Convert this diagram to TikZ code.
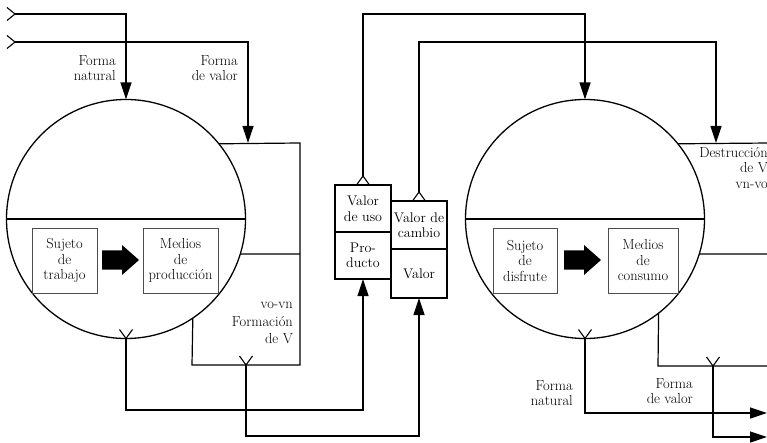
\documentclass[tikz,border=0pt]{standalone}
\usepackage{fontspec}
\setmainfont{Latin Modern Roman}
\usetikzlibrary{arrows.meta,calc}
\newcommand\dfont{\fontsize{14.5}{15.5}\selectfont}
\newcommand\bfnt{\fontsize{14}{15.5}\selectfont}
\begin{document}
\begin{tikzpicture}[x=1pt,y=-1pt,
  line/.style={line width=1.2pt},
  arr/.style={line width=1.2pt,-{Triangle[length=17pt,width=11pt]}},
  circ/.style={circle,draw,line width=1.3pt,minimum size=239pt,inner sep=0pt,outer sep=0pt},
  inbox/.style={draw=black!70,line width=0.9pt,minimum height=65pt,inner sep=0pt,align=center,font=\dfont},
  midbox/.style={draw,line width=1.2pt,minimum width=56pt,inner sep=0pt,outer sep=0pt,align=center,font=\bfnt},
  lbl/.style={inner sep=0pt,align=right,anchor=north east,font=\dfont},
  pics/chevdown/.style={code={\draw[line width=1.1pt] (-6.5,-9) -- (0,0) -- (6.5,-9);}},
  pics/chevup/.style={code={\draw[line width=1.1pt] (-6.5,9) -- (0,0) -- (6.5,9);}},
  pics/chevright/.style={code={\draw[line width=1.1pt] (-8,-6.5) -- (0,0) -- (-8,6.5);}},
  pics/bigarrow/.style={code={\fill (0,-9.5) -- (20,-9.5) -- (20,-15) -- (37,0) -- (20,15) -- (20,9.5) -- (0,9.5) -- cycle;}}
]
\useasboundingbox (0,0) rectangle (767,443);
\clip (0,0) rectangle (767,443);

% circles
\node[circ] (cl) at (126,219) {};
\node[circ] (cr) at (585,219) {};
\draw[line] (cl.west) -- (cl.east);
\draw[line] (cr.west) -- (cr.east);

% inner boxes
\node[inbox,minimum width=65pt] (sj1) at (64.5,260.5) {Sujeto\\de\\trabajo};
\node[inbox,minimum width=75pt] (md1) at (180.5,260.5) {Medios\\de\\producción};
\pic at (102,260) {bigarrow};
\node[inbox,minimum width=64pt] (sj2) at (525,260.5) {Sujeto\\de\\disfrute};
\node[inbox,minimum width=70pt] (md2) at (643,260.5) {Medios\\de\\consumo};
\pic at (564,260) {bigarrow};

% middle boxes
\node[midbox,minimum height=47pt] (vu) at (363,208.5) {Valor\\de uso};
\node[midbox,minimum height=47pt] (prod) at (363,255.5) {Pro-\\ducto};
\node[midbox,minimum height=48pt] (vc) at (419,225) {Valor de\\cambio};
\node[midbox,minimum height=49pt] (val) at (419,273.5) {Valor};

% coordinates
\coordinate (in1) at (15,14);
\coordinate (in2) at (15,42);
\coordinate (fv1) at (248,143);
\coordinate (lr1) at (300,143);
\coordinate (lr2) at (300,254);
\coordinate (lr3) at (300,365);
\coordinate (lb) at (192,365);
\coordinate (yb1) at (246,365);
\coordinate (b1) at (0,410);
\coordinate (b2) at (0,436);
\coordinate (t1) at (0,14);
\coordinate (t2) at (0,42);
\coordinate (fv2) at (716,143);
\coordinate (rr1) at (770,143);
\coordinate (rr2) at (770,254);
\coordinate (rb) at (658,366);
\coordinate (rr3) at (770,366);
\coordinate (yb2) at (713,366);
\coordinate (out1) at (767,413);
\coordinate (out2) at (767,437);
\coordinate (vua) at ($(vu.north)+(0,-9)$);
\coordinate (vca) at ($(vc.north)+(0,-9)$);

% left inputs
\pic at (in1) {chevright};
\pic at (in2) {chevright};
\draw[arr] (in1) -| (cl.north);
\draw[arr] (in2) -| (fv1);

% left frame
\draw[line] (cl.39.5) -- (lr1) -- (lr3) -- (lb) -- (cl.-56.5);
\draw[line] (cl.-17) -- (lr2);

% left outputs
\pic at (cl.south) {chevdown};
\pic at (yb1) {chevdown};
\draw[arr] (cl.south) -- (cl.south |- b1) -| (prod.south);
\draw[arr] (yb1) -- (yb1 |- b2) -| (val.south);

% middle to right
\pic at (vua) {chevup};
\pic at (vca) {chevup};
\draw[arr] (vua) -- (vua |- t1) -| (cr.north);
\draw[arr] (vca) -- (vca |- t2) -| (fv2);

% right frame
\draw[line] (cr.39.5) -- (rr1);
\draw[line] (cr.-17) -- (rr2);
\draw[line] (cr.-52.3) -- (rb) -- (rr3);

% right outputs
\pic at (cr.south) {chevdown};
\pic at (yb2) {chevdown};
\draw[arr] (cr.south) |- (out1);
\draw[arr] (yb2) |- (out2);

% labels
\node[lbl] (l1) at (116,55) {Forma\\natural};
\node[lbl] (l2) at (238,55) {Forma\\de valor};
\node[lbl,font=\fontsize{14.5}{17.5}\selectfont] (l3) at (293,302) {vo-vn\\Formación\\de V};
\node[lbl] (l4) at (768,147) {Destrucción\\de V\\vn-vo};
\node[lbl] (l5) at (573,380) {Forma\\natural};
\node[lbl] (l6) at (693,378) {Forma\\de valor};
\end{tikzpicture}
\end{document}
